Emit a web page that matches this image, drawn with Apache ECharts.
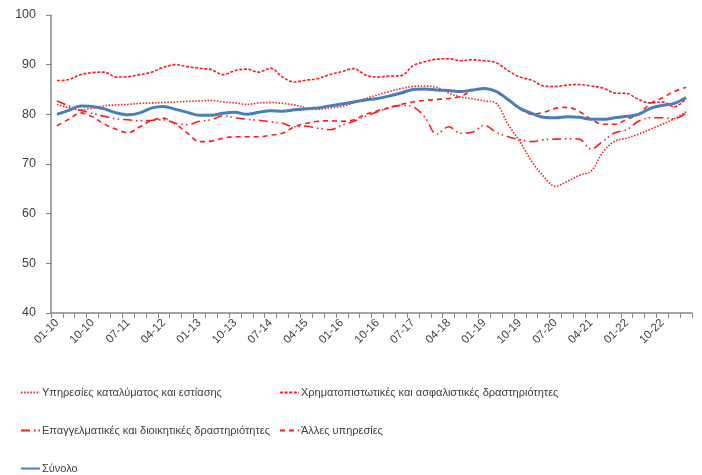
<!DOCTYPE html>
<html>
<head>
<meta charset="utf-8">
<script src="https://cdn.jsdelivr.net/npm/echarts@6/dist/echarts.min.js"></script>
<style>
  html, body { margin: 0; padding: 0; background: #fff; }
  #chart { width: 702px; height: 475px; }
</style>
</head>
<body>
<div id="chart"></div>
<script>
const categories = [
  '01-10','04-10','07-10','10-10','01-11','04-11','07-11','10-11',
  '01-12','04-12','07-12','10-12','01-13','04-13','07-13','10-13',
  '01-14','04-14','07-14','10-14','01-15','04-15','07-15','10-15',
  '01-16','04-16','07-16','10-16','01-17','04-17','07-17','10-17',
  '01-18','04-18','07-18','10-18','01-19','04-19','07-19','10-19',
  '01-20','04-20','07-20','10-20','01-21','04-21','07-21','10-21',
  '01-22','04-22','07-22','10-22','01-23','04-23'
]

const accommodation = [
  82.0, 81.3, 80.9, 81.2, 81.7, 81.9, 82.0, 82.2, 82.3, 82.4,
  82.5, 82.6, 82.7, 82.8, 82.5, 82.3, 82.0, 82.3, 82.4, 82.2,
  81.9, 81.3, 81.0, 81.3, 81.6, 82.3, 83.2, 83.9, 84.6, 85.2,
  85.6, 85.7, 85.4, 84.3, 83.5, 83.1, 82.7, 82.2, 78.0, 74.5,
  70.5, 67.5, 65.5, 66.5, 67.7, 68.6, 72.4, 74.6, 75.2, 76.0,
  77.0, 78.0, 79.1, 80.5
]

const finance = [
  86.8, 87.0, 88.0, 88.4, 88.5, 87.5, 87.6, 88.0, 88.5, 89.5,
  90.0, 89.6, 89.3, 89.0, 88.0, 88.8, 89.1, 88.5, 89.3, 87.5,
  86.5, 86.9, 87.2, 88.0, 88.6, 89.2, 87.9, 87.5, 87.7, 87.8,
  89.8, 90.6, 91.1, 91.2, 90.8, 91.0, 90.8, 90.4, 88.8, 87.5,
  86.9, 85.7, 85.6, 85.9, 86.0, 85.7, 85.3, 84.3, 84.2, 83.0,
  82.3, 82.5, 81.5, 83.2
]

const professional = [
  82.7, 81.7, 80.8, 80.2, 79.6, 79.1, 78.9, 78.7, 78.8, 78.9,
  78.2, 77.9, 78.6, 78.9, 79.7, 79.3, 79.0, 78.8, 78.5, 78.2,
  77.5, 77.6, 77.2, 76.9, 77.8, 78.6, 79.6, 80.5, 81.4, 81.8,
  81.5, 79.4, 76.0, 77.5, 76.2, 76.4, 77.8, 76.4, 75.5, 74.9,
  74.5, 74.9, 75.0, 75.1, 75.0, 73.0, 74.6, 76.3, 76.9, 78.6,
  79.3, 79.3, 79.1, 80.2
]

const otherServices = [
  77.7, 79.0, 80.3, 79.5, 78.0, 77.0, 76.3, 77.5, 78.8, 79.2,
  78.0, 76.2, 74.5, 74.6, 75.2, 75.5, 75.5, 75.5, 75.8, 76.2,
  77.5, 78.2, 78.6, 78.7, 78.6, 78.9, 80.0, 80.7, 81.3, 82.0,
  82.5, 82.8, 83.0, 83.2, 83.6, 84.8, 85.1, 84.5, 82.8, 81.2,
  80.0, 80.4, 81.2, 81.4, 80.6, 79.0, 78.0, 78.0, 79.0, 80.0,
  82.2, 83.3, 84.6, 85.4
]

const total = [
  80.0, 80.8, 81.7, 81.6, 81.1, 80.3, 79.9, 80.3, 81.3, 81.6,
  81.0, 80.4, 79.8, 79.8, 80.2, 80.4, 80.0, 80.4, 80.7, 80.6,
  80.9, 81.1, 81.3, 81.7, 82.1, 82.5, 82.9, 83.2, 83.7, 84.3,
  85.0, 85.1, 84.9, 84.8, 84.6, 84.9, 85.2, 84.6, 83.0, 81.2,
  80.2, 79.4, 79.3, 79.5, 79.4, 79.0, 79.0, 79.3, 79.6, 80.0,
  81.2, 81.8, 82.2, 83.4
]

const names = [
  'Υπηρεσίες καταλύματος και εστίασης',
  'Χρηματοπιστωτικές και ασφαλιστικές δραστηριότητες',
  'Επαγγελματικές και διοικητικές δραστηριότητες',
  'Άλλες υπηρεσίες',
  'Σύνολο'
]

const red = '#ff1a1a'
const font = 'Liberation Sans, Arial, sans-serif'

function redLine (name, data, type) {
  return {
    name: name,
    type: 'line',
    data: data,
    symbol: 'none',
    smooth: 0.35,
    lineStyle: { color: red, width: 1.6, type: type },
    itemStyle: { color: red }
  }
}

// one legend per item so they can sit in two columns like the original
function legendAt (name, left, top) {
  return {
    data: [name],
    left: left,
    top: top,
    padding: 0,
    itemWidth: 19,
    itemHeight: 10,
    itemGap: 3,
    itemStyle: { opacity: 0 },
    textStyle: { fontFamily: font, fontSize: 11, color: '#404040', padding: [0, 0, 0, -3] }
  }
}

const chart = echarts.init(document.getElementById('chart'))
chart.setOption({
  animation: false,
  backgroundColor: '#fff',
  grid: { left: 51, right: 10, top: 15, bottom: 162, containLabel: false, outerBoundsMode: 'none' },
  legend: [
    legendAt(names[0], 20, 387),
    legendAt(names[1], 279, 387),
    legendAt(names[2], 20, 425),
    legendAt(names[3], 279, 425),
    legendAt(names[4], 20, 463)
  ],
  xAxis: {
    type: 'category',
    data: categories,
    boundaryGap: true,
    axisLine: { lineStyle: { color: '#868686', width: 1.5 } },
    axisTick: { show: true, interval: 0, length: 5, lineStyle: { color: '#868686' } },
    axisLabel: { interval: 2, rotate: 45, fontFamily: font, fontSize: 11.5, color: '#404040', margin: 8 },
    splitLine: { show: false }
  },
  yAxis: {
    type: 'value',
    min: 40,
    max: 100,
    interval: 10,
    axisLine: { show: true, lineStyle: { color: '#868686', width: 1.5 } },
    axisTick: { show: true, length: 5, lineStyle: { color: '#868686' } },
    axisLabel: { fontFamily: font, fontSize: 12.5, color: '#404040', margin: 15 },
    splitLine: { show: false }
  },
  series: [
    redLine(names[0], accommodation, [1.5, 1.6]),
    redLine(names[1], finance, [3, 1.6]),
    redLine(names[2], professional, [9, 4, 1.5, 3, 1.5, 4]),
    redLine(names[3], otherServices, [5, 4]),
    {
      name: names[4],
      type: 'line',
      data: total,
      symbol: 'none',
      smooth: 0.35,
      lineStyle: { color: '#4a7ebb', width: 3 },
      itemStyle: { color: '#4a7ebb' }
    }
  ]
})
</script>
</body>
</html>
